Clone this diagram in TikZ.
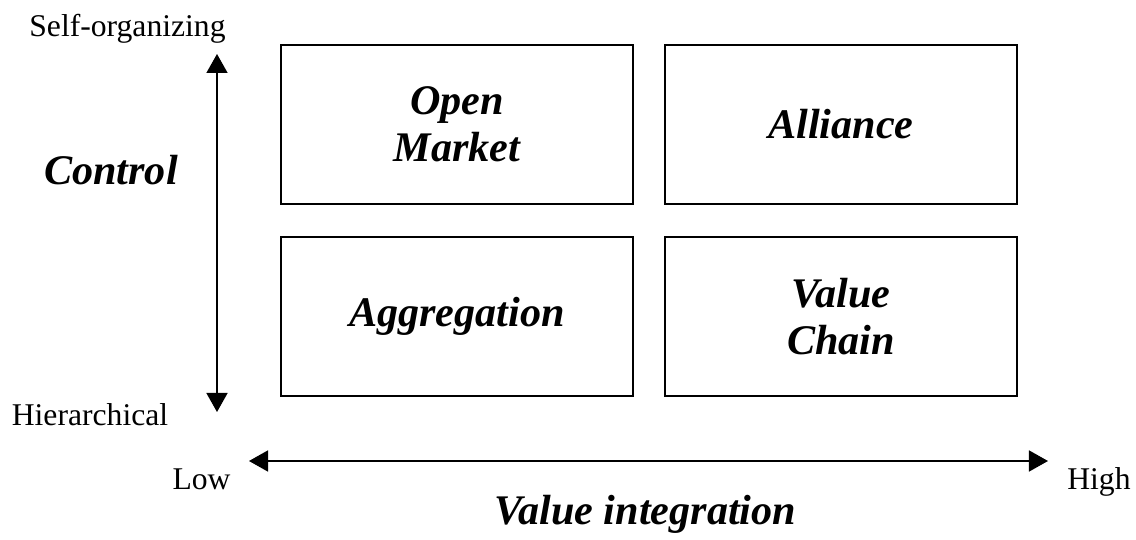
\documentclass[tikz,border=0pt]{standalone}
\usepackage{fontspec}
\setmainfont{Liberation Serif}
\usetikzlibrary{arrows.meta}

\begin{document}
\begin{tikzpicture}[
    quad/.style={draw, line width=0.45pt, minimum width=3.52cm, minimum height=1.59cm, inner sep=0pt, align=center, font=\fontsize{12}{13.4}\selectfont\bfseries\itshape},
    axis/.style={line width=0.45pt, {Triangle[length=1.9mm,width=2.1mm]}-{Triangle[length=1.9mm,width=2.1mm]}},
    small/.style={font=\fontsize{9}{10}\selectfont, anchor=base, inner sep=0pt},
    big/.style={font=\fontsize{12}{13.4}\selectfont\bfseries\itshape, anchor=base, inner sep=0pt}]
                \useasboundingbox (0,0) rectangle (11.36,-5.40);
                % the four quadrants
                \node[quad] (open) at (4.57,-1.245) {Open\\Market};
                \node[quad] (alliance) at (8.41,-1.245) {Alliance};
                \node[quad] (aggr) at (4.57,-3.165) {Aggregation};
                \node[quad] (chain) at (8.41,-3.165) {Value\\Chain};
                % axes
                \coordinate (ctop) at (2.17,-0.54);
                \coordinate (cbot) at (2.17,-4.12);
                \coordinate (lo) at (2.49,-4.61);
                \coordinate (hi) at (10.48,-4.61);
                \draw[axis] (cbot) -- (ctop);
                \draw[axis] (lo) -- (hi);
                \node[small] (self) at (1.275,-0.37) {Self-organizing};
                \node[small] (hier) at (0.90,-4.26) {Hierarchical};
                \node[small] (low) at (2.015,-4.90) {Low};
                \node[small] (high) at (10.99,-4.90) {High};
                \node[big] (control) at (1.11,-1.85) {Control};
                \node[big] (valint) at (6.455,-5.25) {Value integration};
            \end{tikzpicture}
\end{document}
